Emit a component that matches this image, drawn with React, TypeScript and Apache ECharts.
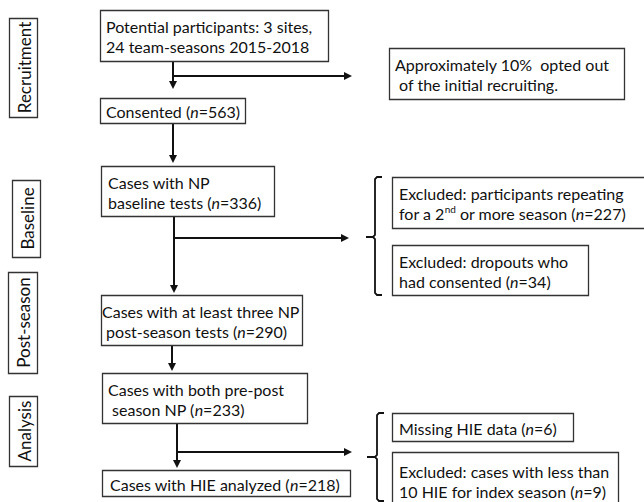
import React, { useEffect, useRef } from "react";
import * as echarts from "echarts";

// ---- data ----
const stageLabels = ["Recruitment", "Baseline", "Post-season", "Analysis"];
const stepLines = [
  ["Potential participants: 3 sites,", "24 team-seasons 2015-2018"],
  ["Consented (#)"],
  ["Cases with NP", "baseline tests (#)"],
  ["Cases with at least three NP", " post-season tests (#)"],
  ["Cases with both pre-post", " season NP (#)"],
  ["Cases with HIE analyzed (#)"],
];
const stepCounts = [null, 563, 336, 290, 233, 218];
const exclusionLines = [
  ["Approximately 10%  opted out", " of the initial recruiting."],
  ["Excluded: participants repeating", "for a 2{sup|nd} or more season (#)"],
  ["Excluded: dropouts who", "had consented (#)"],
  ["Missing HIE data (#)"],
  ["Excluded: cases with less than", "10 HIE for index season (#)"],
];
const exclusionCounts = [null, 227, 34, 6, 9];

// ---- layout ----
const FONT = "Lato, 'Open Sans', sans-serif";
const FS = 16;
const stageBoxes = [
  [9, 18, 28, 99],
  [12, 180, 28, 77],
  [8, 272, 29, 101],
  [9, 396, 28, 70],
];
// x, y, w, h, textPadX
const stepBoxes = [
  [100, 10, 228, 51, 6],
  [100, 98, 145, 25, 6],
  [101, 166, 173, 50, 7],
  [101, 295, 201, 50, 1],
  [102, 373, 205, 50, 6],
  [102, 470, 248, 26, 8],
];
const exclusionBoxes = [
  [389, 48, 235, 51, 6],
  [392, 177, 262, 51, 7],
  [392, 245, 196, 50, 7],
  [392, 413, 181, 28, 7],
  [392, 452, 226, 56, 7],
];
// vertical arrows: x, y1, y2(tip)
const vArrows = [
  [173, 61, 89],
  [173, 123, 163],
  [174, 216, 293],
  [172, 345, 371],
  [177, 423, 468],
];
// horizontal arrows: y, x1, x2(tip)
const hArrows = [
  [76, 173, 352],
  [238, 174, 349],
  [452, 177, 352],
];
// brackets: x, top, bottom, tickY, tickX
const brackets = [
  [375, 177, 295, 237, 366],
  [377, 413, 501, 457, 367],
];

const LINE = "#111";
const BORDER = "#333";
const TEXT = "#111";

function fill(line: string, n: number | null) {
  const t = line.replace(/ (?= )|^ /g, "\u00a0");
  return n == null ? t : t.replace("#", "{i|n}=" + n);
}

const rich = {
  i: { fontStyle: "italic", fontSize: FS, fontFamily: FONT, fill: TEXT, lineHeight: 20 },
  sup: { fontSize: 10, fontFamily: FONT, fill: TEXT, verticalAlign: "top", lineHeight: 12 },
};

function boxElements(b: number[], lines: string[], n: number | null) {
  const [x, y, w, h, px] = b;
  return [
    {
      type: "rect",
      shape: { x: x + 0.5, y: y + 0.5, width: w, height: h },
      style: { fill: "#fff", stroke: BORDER, lineWidth: 1.3 },
    },
    {
      type: "text",
      x: x + px,
      y: y + h / 2 + 1,
      style: {
        text: lines.map((l) => fill(l, n)).join("\n"),
        fontSize: FS,
        fontFamily: FONT,
        fill: TEXT,
        lineHeight: 20,
        align: "left",
        verticalAlign: "middle",
        rich,
      },
    },
  ];
}

export default function App() {
  const ref = useRef<HTMLDivElement>(null);
  useEffect(() => {
    const chart = echarts.init(ref.current!, null, { renderer: "svg" });
    const els: any[] = [];
    stageLabels.forEach((s, i) => {
      const [x, y, w, h] = stageBoxes[i];
      els.push({
        type: "rect",
        shape: { x: x + 0.5, y: y + 0.5, width: w, height: h },
        style: { fill: "#fff", stroke: BORDER, lineWidth: 1.3 },
      });
      els.push({
        type: "text",
        x: x + w / 2 + 1,
        y: y + h / 2,
        rotation: Math.PI / 2,
        style: {
          text: s,
          fontSize: 17,
          fontFamily: FONT,
          fill: TEXT,
          align: "center",
          verticalAlign: "middle",
        },
      });
    });
    vArrows.forEach(([x, y1, y2]) => {
      els.push({
        type: "line",
        shape: { x1: x, y1, x2: x, y2: y2 - 6 },
        style: { stroke: LINE, lineWidth: 2 },
      });
      els.push({
        type: "polygon",
        shape: { points: [[x - 4, y2 - 8], [x + 4, y2 - 8], [x, y2]] },
        style: { fill: LINE },
      });
    });
    hArrows.forEach(([y, x1, x2]) => {
      els.push({
        type: "line",
        shape: { x1, y1: y, x2: x2 - 6, y2: y },
        style: { stroke: LINE, lineWidth: 2 },
      });
      els.push({
        type: "polygon",
        shape: { points: [[x2 - 8, y - 4], [x2 - 8, y + 4], [x2, y]] },
        style: { fill: LINE },
      });
    });
    brackets.forEach(([x, t, b, ty, tx]) => {
      els.push({
        type: "polyline",
        shape: {
          points: [
            [x + 7, t],
            [x + 2, t],
            [x, t + 2],
            [x, ty - 2],
            [x - 2, ty],
            [tx, ty],
            [x - 2, ty],
            [x, ty + 2],
            [x, b - 2],
            [x + 2, b],
            [x + 7, b],
          ],
        },
        style: { stroke: LINE, lineWidth: 1.8, fill: "none" },
      });
    });
    stepLines.forEach((lines, i) => els.push(...boxElements(stepBoxes[i], lines, stepCounts[i])));
    exclusionLines.forEach((lines, i) =>
      els.push(...boxElements(exclusionBoxes[i], lines, exclusionCounts[i]))
    );
    chart.setOption({
      animation: false,
      backgroundColor: "#fff",
      graphic: { elements: els },
    });
    return () => chart.dispose();
  }, []);
  return (
    <div
      ref={ref}
      style={{ position: "absolute", left: 0, top: 0, width: 644, height: 502 }}
    />
  );
}
